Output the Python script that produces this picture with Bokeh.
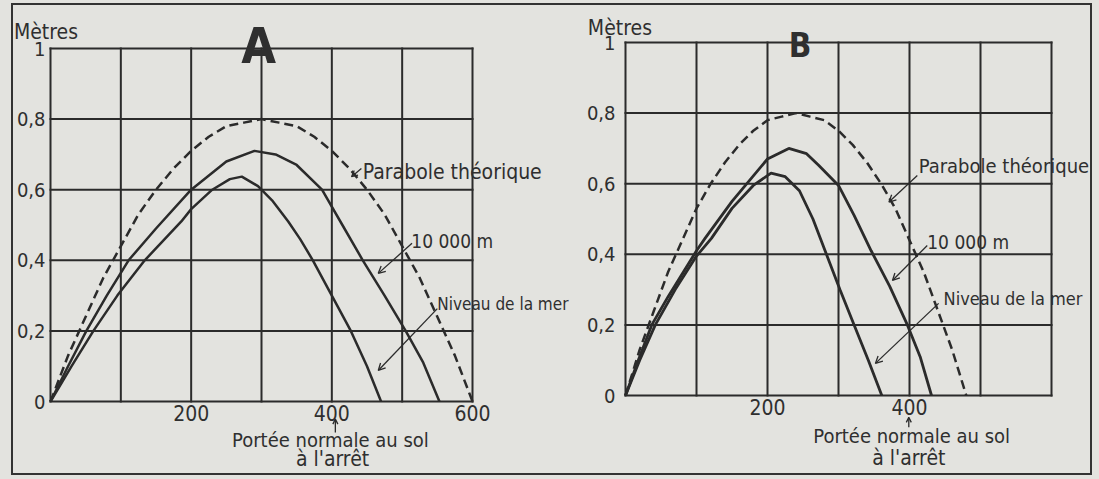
from bokeh.plotting import figure
from bokeh.layouts import row, column
from bokeh.models import FixedTicker, CustomJSTickFormatter, Label, Arrow, OpenHead, Range1d
from bokeh.embed import file_html
from bokeh.resources import INLINE

# ---------------- data ----------------
# Panel A  (portée 0..600 m, hauteur en mètres)
a_para_x = [0, 25, 50, 75, 100, 125, 150, 175, 200, 225, 250, 275, 300,
            325, 350, 375, 400, 425, 450, 475, 500, 525, 550, 575, 600]
a_para_y = [0, 0.13, 0.24, 0.35, 0.44, 0.53, 0.60, 0.66, 0.71, 0.75, 0.78, 0.79, 0.80,
            0.79, 0.78, 0.75, 0.71, 0.66, 0.60, 0.53, 0.44, 0.35, 0.24, 0.13, 0]
a_10k_x = [0, 25, 51, 80, 111, 150, 200, 250, 290, 320, 350, 386, 415, 444, 475, 505, 530, 553]
a_10k_y = [0, 0.10, 0.20, 0.30, 0.40, 0.49, 0.60, 0.68, 0.71, 0.70, 0.67, 0.60, 0.50, 0.40,
           0.30, 0.20, 0.11, 0]
a_sea_x = [0, 30, 61, 95, 134, 186, 200, 230, 255, 272, 295, 315, 338, 355, 373, 400, 427, 450, 470]
a_sea_y = [0, 0.10, 0.20, 0.30, 0.40, 0.51, 0.545, 0.60, 0.63, 0.637, 0.61, 0.57, 0.51, 0.46,
           0.40, 0.30, 0.20, 0.10, 0]

# Panel B
b_para_x = [0, 20, 40, 60, 80, 100, 120, 140, 160, 180, 200, 220, 240,
            260, 280, 300, 320, 340, 360, 380, 400, 420, 440, 460, 480]
b_para_y = [0, 0.13, 0.24, 0.35, 0.44, 0.53, 0.60, 0.66, 0.71, 0.75, 0.78, 0.79, 0.80,
            0.79, 0.78, 0.75, 0.71, 0.66, 0.60, 0.53, 0.44, 0.35, 0.24, 0.13, 0]
b_10k_x = [0, 18, 37, 60, 100, 112, 150, 200, 230, 255, 272, 300, 322, 346, 372, 397, 415, 431]
b_10k_y = [0, 0.10, 0.20, 0.28, 0.41, 0.445, 0.55, 0.67, 0.70, 0.685, 0.652, 0.595, 0.51,
           0.41, 0.31, 0.20, 0.11, 0]
b_sea_x = [0, 20, 42, 70, 100, 121, 150, 180, 205, 225, 245, 264, 283, 302, 322, 342, 361]
b_sea_y = [0, 0.10, 0.20, 0.30, 0.395, 0.445, 0.53, 0.595, 0.63, 0.62, 0.58, 0.50, 0.40,
           0.30, 0.20, 0.10, 0]

y_ticks = [0, 0.2, 0.4, 0.6, 0.8, 1.0]
y_tick_labels = ["0", "0,2", "0,4", "0,6", "0,8", "1"]
grid_x = [0, 100, 200, 300, 400, 500, 600]
grid_y = [0, 0.2, 0.4, 0.6, 0.8, 1.0]
a_x_ticks = [200, 400, 600]
b_x_ticks = [200, 400]

y_title = "Mètres"
x_title_1 = "Portée normale au sol"
x_title_2 = "à l'arrêt"
lbl_para = "Parabole théorique"
lbl_10k = "10 000 m"
lbl_sea = "Niveau de la mer"

# ---------------- styling / layout ----------------
PAPER = "#e3e3df"
INK = "#2b2b2b"
TXT = "#2f2f2f"
FONT = "DejaVu Sans Condensed"

FIG_TOP, FIG_BOTTOM = 5, 473          # page pixels of the figures' top / bottom
SPLIT = 580                            # page x where panel A ends and B starts
DY = 0.02                              # small lift of the annotation baselines


def make_panel(fig_left, fig_right, box_left, box_right, box_top, box_bottom, x_ticks, standoff):
    W = fig_right - fig_left
    H = FIG_BOTTOM - FIG_TOP
    ppx = (box_right - box_left) / (grid_x[-1] - grid_x[0])
    ppy = (box_bottom - box_top) / (grid_y[-1] - grid_y[0])
    xr = Range1d(grid_x[0] - (box_left - fig_left) / ppx, grid_x[-1] + (fig_right - box_right) / ppx)
    yr = Range1d(grid_y[0] - (FIG_BOTTOM - box_bottom) / ppy, grid_y[-1] + (box_top - FIG_TOP) / ppy)
    p = figure(width=W, height=H, x_range=xr, y_range=yr,
               min_border_left=0, min_border_right=0, min_border_top=0, min_border_bottom=0,
               output_backend="svg", toolbar_location=None)
    p.background_fill_color = PAPER
    p.border_fill_color = PAPER
    p.outline_line_color = None
    p.grid.visible = False
    # box + grid drawn through the scales
    n = len(grid_x)
    m = len(grid_y)
    p.segment(x0=grid_x, y0=[grid_y[0]] * n, x1=grid_x, y1=[grid_y[-1]] * n,
              line_color=INK, line_width=2, line_cap="square")
    p.segment(x0=[grid_x[0]] * m, y0=grid_y, x1=[grid_x[-1]] * m, y1=grid_y,
              line_color=INK, line_width=2, line_cap="square")
    # axes pinned on the box edges
    p.xaxis.fixed_location = grid_y[0]
    p.yaxis.fixed_location = grid_x[0]
    p.xaxis.ticker = FixedTicker(ticks=x_ticks)
    p.yaxis.ticker = FixedTicker(ticks=y_ticks)
    p.yaxis.formatter = CustomJSTickFormatter(
        args=dict(tv=y_ticks, tl=y_tick_labels),
        code="const i = tv.findIndex(t => Math.abs(t - tick) < 1e-9); return i >= 0 ? tl[i] : '';")
    for ax in (p.xaxis, p.yaxis):
        ax.axis_line_color = None
        ax.major_tick_line_color = None
        ax.minor_tick_line_color = None
        ax.major_tick_out = 0
        ax.major_tick_in = 0
        ax.minor_tick_out = 0
        ax.minor_tick_in = 0
        ax.major_label_text_font = FONT
        ax.major_label_text_color = TXT
    p.yaxis.major_label_text_font_size = "20px"
    p.xaxis.major_label_text_font_size = "21px"
    p.yaxis.major_label_standoff = standoff
    p.xaxis.major_label_standoff = 3
    return p


def add_label(p, x, y, text, size, align="left", bold=False):
    p.add_layout(Label(x=x, y=y + DY, text=text, text_font=FONT, text_font_size=size,
                       text_color=TXT, text_align=align, text_baseline="alphabetic",
                       text_font_style="bold" if bold else "normal"))


def add_arrow(p, x0, y0, x1, y1, size=7):
    p.add_layout(Arrow(x_start=x0, y_start=y0, x_end=x1, y_end=y1,
                       line_color=INK, line_width=1.3,
                       end=OpenHead(size=size, line_color=INK, line_width=1.3)))


# ---------------- panel A ----------------
pA = make_panel(13, SPLIT, 50, 472, 48, 401, a_x_ticks, 5)
pA.line(a_para_x, a_para_y, line_color=INK, line_width=2.5, line_dash="9 5")
pA.line(a_10k_x, a_10k_y, line_color=INK, line_width=2.5)
pA.line(a_sea_x, a_sea_y, line_color=INK, line_width=2.5)

add_label(pA, -52, 1.028, y_title, "21px")
add_label(pA, 296, 0.986, "A", "50px", align="center", bold=True)
add_label(pA, 444, 0.629, lbl_para, "21px")
add_arrow(pA, 442, 0.660, 428, 0.637, size=6)
add_label(pA, 513, 0.436, lbl_10k, "19px")
add_arrow(pA, 514, 0.448, 466, 0.363)
add_label(pA, 550, 0.255, lbl_sea, "17px")
add_arrow(pA, 550, 0.263, 466, 0.088)
add_arrow(pA, 405, -0.088, 405, -0.050, size=5)
add_label(pA, 398, -0.128, x_title_1, "20px", align="center")
add_label(pA, 401, -0.183, x_title_2, "21px", align="center")

# ---------------- panel B ----------------
pB = make_panel(SPLIT, 1090, 625, 1051, 42, 395, b_x_ticks, 10)
pB.line(b_para_x, b_para_y, line_color=INK, line_width=2.5, line_dash="9 5")
pB.line(b_10k_x, b_10k_y, line_color=INK, line_width=2.8)
pB.line(b_sea_x, b_sea_y, line_color=INK, line_width=2.8)

add_label(pB, -53, 1.02, y_title, "21px")
add_label(pB, 246, 0.972, "B", "33px", align="center", bold=True)
add_label(pB, 413, 0.629, lbl_para, "20px")
add_arrow(pB, 411, 0.623, 371, 0.548)
add_label(pB, 425, 0.416, lbl_10k, "19px")
add_arrow(pB, 425, 0.425, 376, 0.326)
add_label(pB, 448, 0.255, lbl_sea, "18px")
add_arrow(pB, 441, 0.261, 352, 0.091)
add_arrow(pB, 399, -0.090, 399, -0.062, size=5)
add_label(pB, 403, -0.136, x_title_1, "20px", align="center")
add_label(pB, 399, -0.196, x_title_2, "21px", align="center")

inner = row(pA, pB, styles={"border": "2px solid #333333"})
layout = column(inner, styles={"background-color": PAPER, "padding": "3px 7px 4px 11px"})

open("out.html", "w").write(file_html(layout, INLINE))
